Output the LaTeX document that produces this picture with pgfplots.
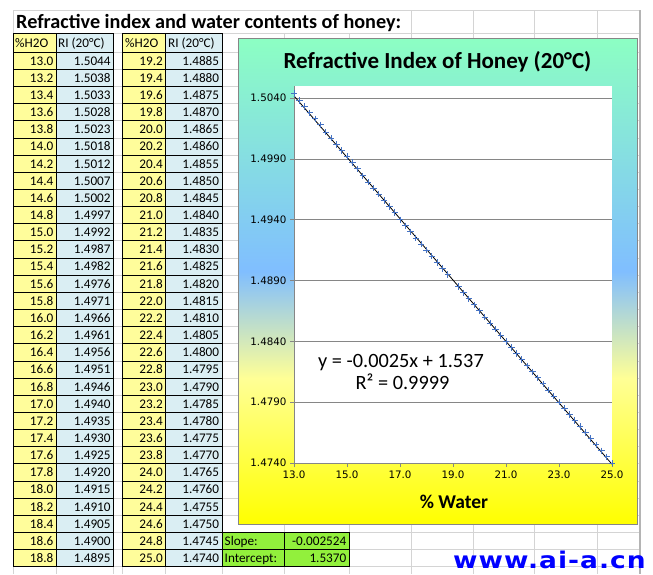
\documentclass[border=0pt]{standalone}
\usepackage{pgfplots}
\pgfplotsset{compat=1.18}
\usepackage{fontspec}
\setmainfont{Carlito}
\newfontfamily\tickfont{DejaVu Sans}
\newfontfamily\wmfont[LetterSpace=4]{DejaVu Sans}

\definecolor{cmint}{RGB}{140,255,195}
\definecolor{cblue}{RGB}{128,190,255}
\definecolor{cpale}{RGB}{255,255,150}
\definecolor{cyellow}{RGB}{255,255,0}
\definecolor{axisgray}{RGB}{134,134,134}
\definecolor{sheetgrid}{RGB}{212,212,212}
\definecolor{cellyellow}{RGB}{255,253,155}
\definecolor{cellblue}{RGB}{218,238,243}
\definecolor{cellgreen}{RGB}{146,240,60}
\definecolor{markblue}{RGB}{68,114,196}
\definecolor{wmblue}{RGB}{0,0,255}

\pgfdeclareverticalshading{chartbg}{100bp}{color(0bp)=(cyellow); color(25bp)=(cyellow); color(40bp)=(cpale); color(51bp)=(cblue); color(75bp)=(cmint); color(100bp)=(cmint)}

\newcommand{\tabfont}{\fontsize{13.2}{15}\selectfont}

\begin{document}
\begin{tikzpicture}[x=1pt,y=-1pt]
\useasboundingbox[fill=white] (0,0) rectangle (653,574);

% spreadsheet grid
\foreach \k in {0,...,30}{
  \draw[sheetgrid, line width=1pt] (13,{52.3+17.15*\k}) -- (640,{52.3+17.15*\k});
}
\draw[sheetgrid, line width=1pt] (13,10) -- (640,10);
\draw[sheetgrid, line width=1pt] (13,33.3) -- (640,33.3);
\foreach \xx in {56,113.5,122.7,165.7,222,284,349}{
  \draw[sheetgrid, line width=1pt] (\xx,33.3) -- (\xx,574);
}
\foreach \xx in {13,411,473,534,597}{
  \draw[sheetgrid, line width=1pt] (\xx,10) -- (\xx,574);
}
\draw[sheetgrid!85!black, line width=1.6pt] (640,10) -- (640,574);

% sheet title
\node[anchor=base west, inner sep=0pt, font=\bfseries\fontsize{20.2}{24}\selectfont] at (16,28.5) {Refractive index and water contents of honey:};

% headers
\fill[cellyellow] (13,33.3) rectangle (56,52.3);
\fill[cellblue] (56,33.3) rectangle (113.5,52.3);
\fill[cellyellow] (122.7,33.3) rectangle (165.7,52.3);
\fill[cellblue] (165.7,33.3) rectangle (222,52.3);
\draw[black, line width=1pt] (13,33.3) rectangle (56,52.3) (56,33.3) rectangle (113.5,52.3)
  (122.7,33.3) rectangle (165.7,52.3) (165.7,33.3) rectangle (222,52.3);
\node[anchor=base west, inner sep=0pt, font=\tabfont] at (15,47.3) {\%H2O};
\node[anchor=base west, inner sep=0pt, font=\tabfont] at (58,47.3) {RI (20°C)};
\node[anchor=base west, inner sep=0pt, font=\tabfont] at (125,47.3) {\%H2O};
\node[anchor=base west, inner sep=0pt, font=\tabfont] at (168,47.3) {RI (20°C)};

% table 1
\foreach \a/\b [count=\i from 0] in {13.0/1.5044,13.2/1.5038,13.4/1.5033,13.6/1.5028,13.8/1.5023,14.0/1.5018,14.2/1.5012,14.4/1.5007,14.6/1.5002,14.8/1.4997,15.0/1.4992,15.2/1.4987,15.4/1.4982,15.6/1.4976,15.8/1.4971,16.0/1.4966,16.2/1.4961,16.4/1.4956,16.6/1.4951,16.8/1.4946,17.0/1.4940,17.2/1.4935,17.4/1.4930,17.6/1.4925,17.8/1.4920,18.0/1.4915,18.2/1.4910,18.4/1.4905,18.6/1.4900,18.8/1.4895}{
  \pgfmathsetmacro\yt{52.3+17.15*\i}
  \pgfmathsetmacro\yb{\yt+17.15}
  \fill[cellyellow] (13,\yt) rectangle (56,\yb);
  \fill[cellblue] (56,\yt) rectangle (113.5,\yb);
  \draw[black, line width=1pt] (13,\yt) rectangle (56,\yb) (56,\yt) rectangle (113.5,\yb);
  \node[anchor=base east, inner sep=0pt, font=\tabfont] at (53.5,\yb-4.3) {\a};
  \node[anchor=base east, inner sep=0pt, font=\tabfont] at (110.8,\yb-4.3) {\b};
}
% table 2
\foreach \a/\b [count=\i from 0] in {19.2/1.4885,19.4/1.4880,19.6/1.4875,19.8/1.4870,20.0/1.4865,20.2/1.4860,20.4/1.4855,20.6/1.4850,20.8/1.4845,21.0/1.4840,21.2/1.4835,21.4/1.4830,21.6/1.4825,21.8/1.4820,22.0/1.4815,22.2/1.4810,22.4/1.4805,22.6/1.4800,22.8/1.4795,23.0/1.4790,23.2/1.4785,23.4/1.4780,23.6/1.4775,23.8/1.4770,24.0/1.4765,24.2/1.4760,24.4/1.4755,24.6/1.4750,24.8/1.4745,25.0/1.4740}{
  \pgfmathsetmacro\yt{52.3+17.15*\i}
  \pgfmathsetmacro\yb{\yt+17.15}
  \fill[cellyellow] (122.7,\yt) rectangle (165.7,\yb);
  \fill[cellblue] (165.7,\yt) rectangle (222,\yb);
  \draw[black, line width=1pt] (122.7,\yt) rectangle (165.7,\yb) (165.7,\yt) rectangle (222,\yb);
  \node[anchor=base east, inner sep=0pt, font=\tabfont] at (163,\yb-4.3) {\a};
  \node[anchor=base east, inner sep=0pt, font=\tabfont] at (219.3,\yb-4.3) {\b};
}
% slope / intercept
\pgfmathsetmacro\ya{52.3+17.15*28}
\pgfmathsetmacro\yb{52.3+17.15*29}
\pgfmathsetmacro\yc{52.3+17.15*30}
\fill[cellgreen] (222,\ya) rectangle (349,\yc);
\draw[black, line width=1pt] (222,\ya) rectangle (284,\yb) (284,\ya) rectangle (349,\yb)
  (222,\yb) rectangle (284,\yc) (284,\yb) rectangle (349,\yc);
\node[anchor=base west, inner sep=0pt, font=\tabfont] at (224.5,\yb-4.3) {Slope:};
\node[anchor=base east, inner sep=0pt, font=\tabfont] at (346.5,\yb-4.3) {-0.002524};
\node[anchor=base west, inner sep=0pt, font=\tabfont] at (224.5,\yc-4.3) {Intercept:};
\node[anchor=base east, inner sep=0pt, font=\tabfont] at (346.5,\yc-4.3) {1.5370};

% chart background
\shade[shading=chartbg] (238,38) rectangle (637,524);
\draw[axisgray, line width=0.9pt] (238,38) rectangle (637,524);

\begin{axis}[
  at={(294pt,-463pt)}, anchor=south west,
  width=318pt, height=377pt, scale only axis,
  xmin=13, xmax=25, ymin=1.474, ymax=1.505,
  axis x line*=bottom, axis y line*=left,
  axis line style={draw=axisgray, line width=0.9pt, -},
  xtick={13,15,17,19,21,23,25},
  ytick={1.474,1.479,1.484,1.489,1.494,1.499,1.504},
  ymajorgrids, grid style={axisgray, line width=0.9pt},
  tick align=outside, major tick length=4pt,
  tick style={axisgray, line width=0.9pt},
  /pgf/number format/assume math mode=true,
  xticklabel style={/pgf/number format/.cd, fixed, fixed zerofill, precision=1},
  yticklabel style={/pgf/number format/.cd, fixed, fixed zerofill, precision=4},
  ticklabel style={font=\tickfont\fontsize{10.3}{12}\selectfont, text=black},
  axis background/.style={fill=white},
  clip=false,
]
\addplot[only marks, mark=+, mark size=3.2pt, draw=markblue, mark options={line width=1pt}] coordinates {
(13.0,1.5044)(13.2,1.5038)(13.4,1.5033)(13.6,1.5028)(13.8,1.5023)(14.0,1.5018)(14.2,1.5012)(14.4,1.5007)(14.6,1.5002)(14.8,1.4997)
(15.0,1.4992)(15.2,1.4987)(15.4,1.4982)(15.6,1.4976)(15.8,1.4971)(16.0,1.4966)(16.2,1.4961)(16.4,1.4956)(16.6,1.4951)(16.8,1.4946)
(17.0,1.4940)(17.2,1.4935)(17.4,1.4930)(17.6,1.4925)(17.8,1.4920)(18.0,1.4915)(18.2,1.4910)(18.4,1.4905)(18.6,1.4900)(18.8,1.4895)
(19.2,1.4885)(19.4,1.4880)(19.6,1.4875)(19.8,1.4870)(20.0,1.4865)(20.2,1.4860)(20.4,1.4855)(20.6,1.4850)(20.8,1.4845)(21.0,1.4840)
(21.2,1.4835)(21.4,1.4830)(21.6,1.4825)(21.8,1.4820)(22.0,1.4815)(22.2,1.4810)(22.4,1.4805)(22.6,1.4800)(22.8,1.4795)(23.0,1.4790)
(23.2,1.4785)(23.4,1.4780)(23.6,1.4775)(23.8,1.4770)(24.0,1.4765)(24.2,1.4760)(24.4,1.4755)(24.6,1.4750)(24.8,1.4745)(25.0,1.4740)
};
\addplot[black, line width=0.8pt, no marks] coordinates {(13,1.504188) (25,1.4739)};
\end{axis}

% chart texts
\node[font=\bfseries\fontsize{23}{27}\selectfont, inner sep=0pt] at (437.5,62) {Refractive Index of Honey (20°C)};
\node[font=\bfseries\fontsize{19.5}{23}\selectfont, inner sep=0pt] at (454,502) {\% Water};
\node[anchor=base west, font=\fontsize{20.3}{24}\selectfont, inner sep=0pt] at (318,367) {y = -0.0025x + 1.537};
\node[anchor=base west, font=\fontsize{20.3}{24}\selectfont, inner sep=0pt] at (355.5,389.5) {R² = 0.9999};

% watermark
\node[anchor=base west, inner sep=0pt, text depth=0pt, xscale=1.15, text=wmblue, font=\wmfont\bfseries\fontsize{23}{26}\selectfont] at (453,568) {www.ai-a.cn};
\end{tikzpicture}
\end{document}
